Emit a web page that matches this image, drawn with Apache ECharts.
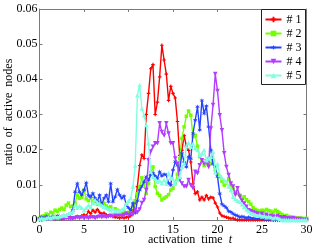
<!DOCTYPE html>
<html>
<head>
<meta charset="utf-8">
<script src="https://cdn.jsdelivr.net/npm/echarts@6/dist/echarts.min.js"></script>
<style>
html,body{margin:0;padding:0;background:#fff;}
#c{width:316px;height:247px;}
</style>
</head>
<body>
<div id="c"></div>
<script>
// activation time grid: t = 0, 0.25, ..., 30
const T_START = 0, T_STEP = 0.25;
const seriesNames = ['# 1', '# 2', '# 3', '# 4', '# 5'];
const xTicks = [0, 5, 10, 15, 20, 25, 30];
const yTicks = [0, 0.01, 0.02, 0.03, 0.04, 0.05, 0.06];

const s1 = [0,0,0.0003,0.0003,0.0005,0.0003,0.0005,0.0003,0.0005,
0.0005,0.0003,0.0005,0.0008,0.0005,0.0008,0.0005,0.0008,
0.001,0.0008,0.0012,0.0015,0.0012,0.0025,0.0018,0.0028,
0.0022,0.003,0.0022,0.0018,0.002,0.0015,0.0012,0.0012,
0.001,0.0008,0.0008,0.0006,0.0008,0.0006,0.0008,0.0008,
0.0012,0.0025,0.005,0.0095,0.0155,0.0185,0.0175,0.030,
0.036,0.043,0.0442,0.030,0.0335,0.0407,0.0497,0.0455,
0.0415,0.034,0.038,0.036,0.0347,0.028,0.0184,0.0198,
0.024,0.021,0.0198,0.0165,0.0103,0.0075,0.008,0.0057,
0.0065,0.0057,0.007,0.006,0.0065,0.0063,0.0048,0.0037,
0.002,0.0012,0.001,0.0008,0.0006,0.0004,0.0005,0.0002,
0,0,0,0,0,0,0,0,
0,0,0,0,0,0,0,0,
0,0,0,0,0,0,0,0,
0,0,0,0,0,0,0,0];

const s2 = [0.0005,0.001,0.0012,0.0017,0.0015,0.0022,0.002,0.0028,0.0025,
0.003,0.0034,0.003,0.0042,0.0048,0.0038,0.004,0.0048,
0.0071,0.0062,0.0065,0.0085,0.006,0.0055,0.0062,0.005,
0.0055,0.0045,0.005,0.0042,0.0048,0.004,0.0035,0.0038,
0.003,0.0032,0.0028,0.0025,0.0022,0.0025,0.002,0.0022,
0.0028,0.004,0.0055,0.0075,0.0095,0.012,0.0105,0.0076,
0.0104,0.0135,0.0151,0.0095,0.0076,0.007,0.0057,0.0062,
0.0066,0.0072,0.0085,0.009,0.0105,0.013,0.0175,0.0232,
0.0265,0.0295,0.031,0.0298,0.0237,0.0241,0.021,0.018,
0.017,0.0155,0.016,0.0175,0.016,0.017,0.0142,0.013,
0.0123,0.011,0.0099,0.0105,0.0118,0.0099,0.009,0.008,
0.0075,0.0071,0.0062,0.0066,0.0058,0.0052,0.0045,0.0035,
0.003,0.0027,0.0025,0.0028,0.0026,0.003,0.0027,0.0025,
0.0022,0.0028,0.0024,0.002,0.0016,0.0012,0.0013,0.001,
0.0009,0.0008,0.0007,0.0006,0.0005,0.0005,0.0004,0.0005];

const s3 = [0.0005,0.0008,0.0005,0.001,0.0008,0.0005,0.001,0.0008,0.0012,
0.001,0.0008,0.0012,0.001,0.0015,0.0018,0.0028,0.008,
0.0104,0.008,0.0071,0.0085,0.0106,0.007,0.0066,0.0076,
0.0062,0.0052,0.0071,0.0043,0.0062,0.0071,0.0052,0.0104,
0.0052,0.0066,0.0087,0.0071,0.0062,0.0068,0.0043,0.0035,
0.0028,0.0048,0.002,0.0055,0.0085,0.0095,0.0109,0.0123,
0.0114,0.0128,0.0133,0.0125,0.0118,0.0137,0.0125,0.013,
0.0128,0.0105,0.0099,0.0142,0.0166,0.0155,0.0142,0.019,
0.0165,0.0151,0.018,0.0174,0.0246,0.0284,0.0322,0.0256,
0.034,0.0303,0.0324,0.0265,0.0199,0.016,0.0151,0.0123,
0.0075,0.0045,0.004,0.0035,0.0025,0.0023,0.0018,0.0014,
0.0012,0.0008,0.001,0.0008,0.0005,0.0008,0.0005,0.0005,
0.0003,0.0005,0.0003,0.0005,0.0003,0.0003,0.0002,0.0003,
0,0,0,0,0,0,0,0,
0,0,0,0,0,0,0,0];

const s4 = [0,0.0002,0.0003,0.0002,0.0003,0.0002,0.0003,0.0003,0.0005,
0.0003,0.0005,0.0003,0.0005,0.0005,0.0003,0.0005,0.0005,
0.0008,0.0005,0.0008,0.0005,0.0008,0.0005,0.0008,0.0008,
0.0005,0.0008,0.001,0.0008,0.001,0.0008,0.001,0.0012,
0.001,0.0015,0.0012,0.0015,0.0012,0.0014,0.0018,0.0014,
0.0018,0.0015,0.0028,0.0022,0.003,0.0048,0.0057,0.0085,
0.017,0.0195,0.0208,0.0218,0.0218,0.0275,0.025,0.024,
0.0275,0.0246,0.0218,0.0218,0.0175,0.016,0.0114,0.0104,
0.0095,0.0095,0.0114,0.0099,0.009,0.0137,0.0133,0.0156,
0.017,0.016,0.0166,0.0151,0.026,0.0327,0.0415,0.0367,
0.0298,0.0255,0.019,0.0151,0.0128,0.0104,0.0095,0.0071,
0.009,0.0066,0.0055,0.0047,0.0038,0.0028,0.0025,0.0023,
0.002,0.0018,0.0015,0.0018,0.0012,0.0015,0.001,0.0012,
0.001,0.0008,0.0012,0.0008,0.0005,0.0008,0.0005,0.0005,
0.0003,0.0005,0.0003,0.0002,0.0003,0,0,0];

const s5 = [0.0003,0.0005,0.0003,0.0005,0.0008,0.0005,0.0008,0.001,0.0008,
0.001,0.0012,0.0015,0.0012,0.0018,0.002,0.0024,0.0043,
0.0035,0.004,0.0035,0.0028,0.0035,0.0042,0.0038,0.0048,
0.0057,0.005,0.0045,0.0042,0.0038,0.0035,0.0032,0.0028,
0.0032,0.0025,0.0028,0.0025,0.003,0.0033,0.0047,0.0055,
0.0062,0.0095,0.0155,0.0355,0.0384,0.0317,0.0298,0.027,
0.0218,0.0137,0.0123,0.0118,0.0109,0.0112,0.0105,0.0114,
0.0103,0.0133,0.012,0.0118,0.0103,0.0115,0.0122,0.0151,
0.016,0.021,0.022,0.0208,0.0217,0.0204,0.02,0.0185,
0.019,0.0199,0.017,0.0175,0.018,0.0194,0.0136,0.016,
0.0128,0.012,0.0114,0.0109,0.0095,0.0085,0.0066,0.006,
0.0055,0.0052,0.0045,0.0038,0.003,0.0025,0.002,0.0018,
0.0015,0.0012,0.0015,0.001,0.0012,0.0008,0.001,0.0008,
0.0005,0.0008,0.0005,0.0003,0,0,0,0,
0,0,0,0,0,0,0,0];

const seriesValues = [s1, s2, s3, s4, s5];
const colors = ['#ff0000', '#73ff00', '#2444ff', '#b23cff', '#80ffe0'];
const symbols = [
  'path://M2,0H4V2H6V4H4V6H2V4H0V2H2Z',
  'rect',
  'path://M5,0L5.9,3.44L9.33,2.5L6.8,5L9.33,7.5L5.9,6.56L5,10L4.1,6.56L0.67,7.5L3.2,5L0.67,2.5L4.1,3.44Z',
  'path://M0,0L10,0L5,9Z',
  'path://M5,0L10,9L0,9Z'
];
const symbolSizes = [3.5, 3.5, 5, 4.5, 4.5];

const FONT = 'Liberation Serif';
const AX = '#7a7a7a';

const series = seriesValues.map((vals, k) => ({
  name: seriesNames[k],
  type: 'line',
  xAxisIndex: 0, yAxisIndex: 0,
  data: vals.map((v, i) => [T_START + i * T_STEP, v]),
  symbol: symbols[k],
  symbolSize: symbolSizes[k],
  showAllSymbol: true,
  lineStyle: { color: colors[k], width: 1.4 },
  itemStyle: { color: colors[k] },
  animation: false,
  z: 2 + k
}));

const chart = echarts.init(document.getElementById('c'), null, { renderer: 'canvas' });
const baseX = {
  type: 'value', min: xTicks[0], max: xTicks[xTicks.length - 1], interval: 5,
  splitLine: { show: false },
  axisLine: { show: true, onZero: false, lineStyle: { color: AX, width: 1 } },
  axisTick: { show: true, inside: true, length: 3, lineStyle: { color: AX } }
};
const baseY = {
  type: 'value', min: yTicks[0], max: yTicks[yTicks.length - 1], interval: 0.01,
  splitLine: { show: false },
  axisLine: { show: true, onZero: false, lineStyle: { color: AX, width: 1 } },
  axisTick: { show: true, inside: true, length: 3, lineStyle: { color: AX } }
};
chart.setOption({
  backgroundColor: '#fff',
  animation: false,
  grid: { left: 39.5, right: 9.5, top: 9, bottom: 27, containLabel: false },
  xAxis: [
    Object.assign({}, baseX, { position: 'bottom',
      axisLabel: { show: true, margin: 4, color: '#000', fontFamily: FONT, fontSize: 12 } }),
    Object.assign({}, baseX, { position: 'top', axisLabel: { show: false } })
  ],
  yAxis: [
    Object.assign({}, baseY, { position: 'left',
      axisLabel: { show: true, margin: 2, color: '#000', fontFamily: FONT, fontSize: 12,
        formatter: v => (v === 0 ? '0' : v.toFixed(2)) } }),
    Object.assign({}, baseY, { position: 'right', axisLabel: { show: false } })
  ],
  legend: {
    data: seriesNames,
    orient: 'vertical',
    right: 10.5, top: 9.5,
    padding: [4, 4, 3, 3],
    itemWidth: 16, itemHeight: 7, itemGap: 2,
    backgroundColor: '#fff',
    borderColor: '#222', borderWidth: 1,
    textStyle: { fontFamily: FONT, fontSize: 12, color: '#000' }
  },
  graphic: [
    { type: 'text', x: 9, y: 112, rotation: Math.PI / 2,
      style: { text: 'ratio  of  active  nodes', font: '12px "Liberation Serif"', fill: '#000',
        align: 'center', verticalAlign: 'middle' } },
    { type: 'text', x: 190, y: 240,
      style: { text: '{n|activation  time  }{i|t}', align: 'center', verticalAlign: 'middle',
        rich: { n: { fontFamily: FONT, fontSize: 12, fill: '#000' },
                i: { fontFamily: FONT, fontSize: 12, fontStyle: 'italic', fill: '#000' } } } }
  ],
  series: series
});
</script>
</body>
</html>
